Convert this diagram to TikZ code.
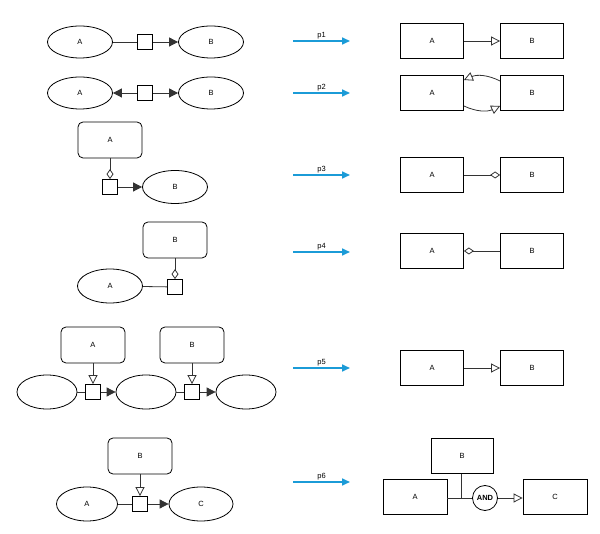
\documentclass[tikz,border=0pt]{standalone}
\usepackage{fontspec}
\setmainfont{Liberation Sans}
\usetikzlibrary{arrows.meta,shapes.geometric}
\definecolor{flowblue}{RGB}{27,155,215}
\tikzset{
  ell/.style={draw,ellipse,minimum width=65pt,minimum height=32pt,inner sep=0pt},
  rbox/.style={draw,rounded corners=5pt,minimum width=64pt,minimum height=36pt},
  box/.style={draw,minimum width=63pt,minimum height=35pt},
  sq/.style={draw,fill=white,minimum size=15pt,inner sep=0pt},
  andnode/.style={draw,circle,minimum size=25pt,inner sep=0pt,font=\bfseries\fontsize{7.5}{8}\selectfont},
  con/.style={draw=black!80},
  solidtip/.style={con,-{Triangle[length=9pt,width=9pt]}},
  opentip/.style={con,-{Triangle[open,length=9pt,width=9pt]}},
  diatip/.style={con,-{Diamond[open,length=10pt,width=7pt]}},
  flow/.style={draw=flowblue,line width=1.6pt,-{Triangle[length=8pt,width=7pt]}}
}
\begin{document}
\begin{tikzpicture}[x=1pt,y=-1pt,line width=0.8pt,font=\fontsize{7.5}{9}\selectfont]
  \useasboundingbox (0,0) rectangle (600,534);
  % left side
  \node[ell] (a1) at (80,42) {A};
  \node[sq] (s1) at (145,42) {};
  \node[ell] (b1) at (211,42) {B};
  \draw[con] (a1) -- (s1);
  \draw[solidtip] (s1) -- (b1);

  \node[ell] (a2) at (80,93) {A};
  \node[sq] (s2) at (145,93) {};
  \node[ell] (b2) at (211,93) {B};
  \draw[solidtip] (s2) -- (a2);
  \draw[solidtip] (s2) -- (b2);

  \node[rbox] (a3) at (110,140) {A};
  \node[sq] (s3) at (110,187) {};
  \node[ell,minimum height=33pt] (b3) at (175,187) {B};
  \draw[diatip] (a3) -- (s3);
  \draw[solidtip] (s3) -- (b3);

  \node[rbox] (b4) at (175,240) {B};
  \node[sq] (s4) at (175,287) {};
  \node[ell,minimum height=34pt] (a4) at (110,286) {A};
  \draw[diatip] (b4) -- (s4);
  \draw[con] (a4) -- (s4);

  \node[rbox] (a5) at (93,345) {A};
  \node[rbox] (b5) at (192,345) {B};
  \node[ell,minimum width=60pt,minimum height=34pt] (e51) at (47,392) {};
  \node[sq] (s51) at (93,392) {};
  \node[ell,minimum width=60pt,minimum height=34pt] (e52) at (146,392) {};
  \node[sq] (s52) at (192,392) {};
  \node[ell,minimum width=60pt,minimum height=34pt] (e53) at (246,392) {};
  \draw[opentip] (a5) -- (s51);
  \draw[opentip] (b5) -- (s52);
  \draw[con] (e51) -- (s51);
  \draw[solidtip] (s51) -- (e52);
  \draw[con] (e52) -- (s52);
  \draw[solidtip] (s52) -- (e53);

  \node[rbox] (b6) at (140,456) {B};
  \node[sq] (s6) at (140,504) {};
  \node[ell,minimum width=61pt,minimum height=34pt] (a6) at (87,504) {A};
  \node[ell,minimum width=64pt,minimum height=34pt] (c6) at (201,504) {C};
  \draw[opentip] (b6) -- (s6);
  \draw[con] (a6) -- (s6);
  \draw[solidtip] (s6) -- (c6);

  % transformations
  \foreach \y [count=\i] in {41,93,175,252,368,482} {
    \coordinate (p\i s) at (293,\y);
    \coordinate (p\i e) at (350,\y);
    \draw[flow] (p\i s) -- node[above,inner sep=1.5pt,black] {p\i} (p\i e);
  }

  % right side
  \node[box] (ra1) at (432,41) {A};
  \node[box] (rb1) at (532,41) {B};
  \draw[opentip] (ra1) -- (rb1);

  \node[box] (ra2) at (432,93) {A};
  \node[box] (rb2) at (532,93) {B};
  \draw[opentip] ([yshift=12pt]rb2.west) to[bend right=25] ([yshift=13pt]ra2.east);
  \draw[opentip] ([yshift=-13pt]ra2.east) to[bend right=25] ([yshift=-13pt]rb2.west);

  \node[box] (ra3) at (432,175) {A};
  \node[box] (rb3) at (532,175) {B};
  \draw[diatip] (ra3) -- (rb3);

  \node[box] (ra4) at (432,251) {A};
  \node[box] (rb4) at (532,251) {B};
  \draw[diatip] (rb4) -- (ra4);

  \node[box] (ra5) at (432,368) {A};
  \node[box] (rb5) at (532,368) {B};
  \draw[opentip] (ra5) -- (rb5);

  \node[box,minimum width=62pt] (rb6) at (462,456) {B};
  \node[box,minimum width=64pt] (ra6) at (415,497) {A};
  \node[andnode] (and6) at (485,498) {AND};
  \node[box,minimum width=64pt] (rc6) at (555,497) {C};
  \draw[con] (ra6.east |- and6) -- (and6);
  \draw[con] (rb6.south -| 461,0) -- (461,498);
  \draw[opentip] (and6) -- (rc6.west |- and6);
\end{tikzpicture}
\end{document}
